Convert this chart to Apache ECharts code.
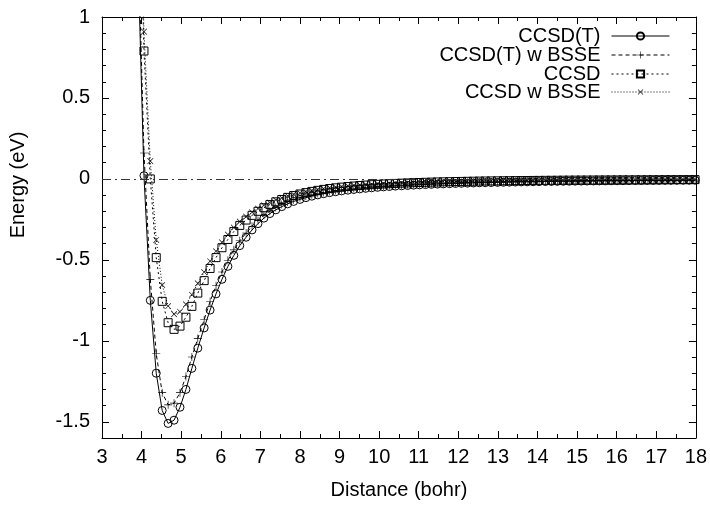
<!DOCTYPE html>
<html>
<head>
<meta charset="utf-8">
<script src="https://cdn.jsdelivr.net/npm/echarts@6/dist/echarts.min.js"></script>
<style>html,body{margin:0;padding:0;background:#fff}#c{width:710px;height:505px}</style>
</head>
<body>
<div id="c"></div>
<script>
var xs = [3.91,4.06,4.22,4.37,4.52,4.67,4.82,4.97,5.12,5.27,5.42,5.58,5.73,5.88,6.03,6.18,6.33,6.48,6.64,6.79,6.94,7.09,7.24,7.39,7.54,7.69,7.84,8.00,8.15,8.30,8.45,8.60,8.75,8.90,9.05,9.21,9.36,9.51,9.66,9.81,9.96,10.11,10.26,10.41,10.57,10.72,10.87,11.02,11.17,11.32,11.47,11.62,11.78,11.93,12.08,12.23,12.38,12.53,12.68,12.83,12.99,13.14,13.29,13.44,13.59,13.74,13.89,14.04,14.20,14.35,14.50,14.65,14.80,14.95,15.10,15.25,15.41,15.56,15.71,15.86,16.01,16.16,16.31,16.47,16.62,16.77,16.92,17.07,17.22,17.37,17.52,17.68,17.83,17.98];

var ccsdT = [1.35,0.02,-0.75,-1.20,-1.43,-1.51,-1.49,-1.41,-1.30,-1.17,-1.045,-0.92,-0.81,-0.71,-0.62,-0.54,-0.472,-0.412,-0.36,-0.315,-0.276,-0.242,-0.214,-0.191,-0.171,-0.154,-0.139,-0.1265,-0.1157,-0.1065,-0.0984,-0.0912,-0.0848,-0.0791,-0.0741,-0.0695,-0.0653,-0.0615,-0.0581,-0.0549,-0.0520,-0.0493,-0.0468,-0.0445,-0.0423,-0.0403,-0.0384,-0.0366,-0.0350,-0.0334,-0.0320,-0.0306,-0.0294,-0.0282,-0.0271,-0.0260,-0.0250,-0.0240,-0.0231,-0.0222,-0.0214,-0.0206,-0.0199,-0.0192,-0.0185,-0.0179,-0.0173,-0.0167,-0.0161,-0.0156,-0.0151,-0.0146,-0.0142,-0.0137,-0.0133,-0.0129,-0.0125,-0.0122,-0.0118,-0.0115,-0.0112,-0.0109,-0.0106,-0.0103,-0.0100,-0.0097,-0.0095,-0.0092,-0.0090,-0.0088,-0.0085,-0.0083,-0.0081,-0.0079];

var ccsdTBsse = [1.5,0.16,-0.62,-1.08,-1.32,-1.395,-1.385,-1.32,-1.22,-1.10,-0.985,-0.87,-0.757,-0.66,-0.575,-0.502,-0.438,-0.382,-0.334,-0.292,-0.256,-0.225,-0.199,-0.177,-0.158,-0.142,-0.128,-0.1165,-0.1065,-0.0978,-0.0902,-0.0834,-0.0774,-0.0721,-0.0674,-0.0631,-0.0592,-0.0557,-0.0525,-0.0495,-0.0468,-0.0443,-0.0420,-0.0399,-0.0379,-0.0360,-0.0343,-0.0327,-0.0312,-0.0298,-0.0285,-0.0272,-0.0261,-0.0250,-0.0240,-0.0230,-0.0221,-0.0212,-0.0204,-0.0196,-0.0189,-0.0182,-0.0175,-0.0169,-0.0163,-0.0157,-0.0152,-0.0147,-0.0142,-0.0137,-0.0133,-0.0129,-0.0125,-0.0121,-0.0117,-0.0113,-0.0110,-0.0107,-0.0104,-0.0101,-0.0098,-0.0095,-0.0093,-0.0090,-0.0088,-0.0086,-0.0083,-0.0081,-0.0079,-0.0077,-0.0075,-0.0073,-0.0071,-0.0070];

var ccsd = [2.2,0.79,0.0,-0.486,-0.756,-0.888,-0.929,-0.909,-0.854,-0.787,-0.705,-0.628,-0.553,-0.486,-0.425,-0.374,-0.325,-0.287,-0.254,-0.225,-0.2,-0.178,-0.1585,-0.1415,-0.1268,-0.1140,-0.1028,-0.0931,-0.0846,-0.0771,-0.0705,-0.0647,-0.0595,-0.0549,-0.0508,-0.0471,-0.0438,-0.0408,-0.0381,-0.0356,-0.0334,-0.0313,-0.0294,-0.0277,-0.0261,-0.0246,-0.0233,-0.0220,-0.0209,-0.0198,-0.0188,-0.0179,-0.0170,-0.0162,-0.0155,-0.0148,-0.0141,-0.0135,-0.0129,-0.0124,-0.0119,-0.0114,-0.0110,-0.0105,-0.0101,-0.0098,-0.0094,-0.0091,-0.0088,-0.0085,-0.0082,-0.0079,-0.0077,-0.0074,-0.0072,-0.0070,-0.0068,-0.0066,-0.0064,-0.0062,-0.0060,-0.0058,-0.0057,-0.0055,-0.0054,-0.0052,-0.0051,-0.0050,-0.0048,-0.0047,-0.0046,-0.0045,-0.0044,-0.0043];

var ccsdBsse = [2.3,0.91,0.11,-0.377,-0.655,-0.785,-0.835,-0.82,-0.775,-0.715,-0.645,-0.575,-0.508,-0.447,-0.392,-0.344,-0.300,-0.264,-0.233,-0.206,-0.183,-0.163,-0.1455,-0.1302,-0.1168,-0.1050,-0.0947,-0.0857,-0.0778,-0.0709,-0.0648,-0.0594,-0.0546,-0.0504,-0.0466,-0.0432,-0.0401,-0.0374,-0.0349,-0.0326,-0.0305,-0.0286,-0.0269,-0.0253,-0.0238,-0.0225,-0.0212,-0.0201,-0.0190,-0.0180,-0.0171,-0.0162,-0.0154,-0.0147,-0.0140,-0.0133,-0.0127,-0.0121,-0.0116,-0.0111,-0.0106,-0.0102,-0.0098,-0.0094,-0.0090,-0.0087,-0.0083,-0.0080,-0.0077,-0.0075,-0.0072,-0.0070,-0.0067,-0.0065,-0.0063,-0.0061,-0.0059,-0.0057,-0.0055,-0.0054,-0.0052,-0.0051,-0.0049,-0.0048,-0.0047,-0.0045,-0.0044,-0.0043,-0.0042,-0.0041,-0.0040,-0.0039,-0.0038,-0.0037];

var seriesNames = ['CCSD(T)', 'CCSD(T) w BSSE', 'CCSD', 'CCSD w BSSE'];
var yTickLabels = [-1.5, -1, -0.5, 0, 0.5, 1];
var xTickLabels = [3,4,5,6,7,8,9,10,11,12,13,14,15,16,17,18];

function pairs(vals) { return xs.map(function (x, i) { return [x, vals[i]]; }); }

var FONT = 'Liberation Sans, Arial, Helvetica, sans-serif';
var FS = 20;
var plusPath = 'path://M0,4.6H10V5.4H0Z M4.6,0H5.4V10H4.6Z';

function yAx(pos, major, labels) {
  return {
    type: 'value', position: pos, min: -1.6, max: 1,
    interval: major ? undefined : 0.1,
    axisLine: { show: !major, onZero: false, lineStyle: { color: '#000', width: 1 } },
    axisTick: major ? { show: true, inside: true, length: 7, customValues: yTickLabels, lineStyle: { color: '#000' } }
                    : { show: true, inside: true, length: 4, lineStyle: { color: '#000' } },
    axisLabel: labels ? { show: true, customValues: yTickLabels, margin: 12, color: '#000', fontSize: FS, fontFamily: FONT,
                          formatter: function (v) { return String(Math.round(v * 10) / 10); } } : { show: false },
    splitLine: { show: false }
  };
}

function xAx(pos, labels) {
  return {
    type: 'value', position: pos, min: xTickLabels[0], max: xTickLabels[xTickLabels.length - 1], interval: 1,
    axisLine: { show: true, onZero: false, lineStyle: { color: '#000', width: 1 } },
    axisTick: { show: true, inside: true, length: 7, lineStyle: { color: '#000' } },
    minorTick: { show: true, splitNumber: 2, length: 4, lineStyle: { color: '#000' } },
    axisLabel: labels ? { show: true, margin: 9, color: '#000', fontSize: FS, fontFamily: FONT } : { show: false },
    splitLine: { show: false },
    name: labels ? 'Distance (bohr)' : '',
    nameLocation: 'middle', nameGap: 42,
    nameTextStyle: { color: '#000', fontSize: FS, fontFamily: FONT }
  };
}

var common = { type: 'line', xAxisIndex: 0, yAxisIndex: 0, symbolSize: 8, showSymbol: true, clip: true, animation: false, z: 3 };

function mk(name, vals, symbol, lineType, hollow, rotate) {
  return Object.assign({}, common, {
    name: name, data: pairs(vals), symbol: symbol, symbolRotate: rotate || 0,
    lineStyle: { color: '#000', width: 1, type: lineType },
    itemStyle: hollow ? { color: 'rgba(255,255,255,0)', borderColor: '#000', borderWidth: 1 } : { color: '#000', borderWidth: 0 }
  });
}

var s0 = mk(seriesNames[0], ccsdT, 'circle', 'solid', true);
s0.markLine = { silent: true, symbol: ['none', 'none'], label: { show: false },
  lineStyle: { color: '#333', width: 1, type: [9, 4, 2, 4] }, data: [{ yAxis: 0 }], animation: false };
var s1 = mk(seriesNames[1], ccsdTBsse, plusPath, [4, 3], false);
var s2 = mk(seriesNames[2], ccsd, 'rect', [2, 3], true);
var s3 = mk(seriesNames[3], ccsdBsse, plusPath, [1, 2], false, 45);

var legendRows = [26, 45, 64, 82];
var legends = seriesNames.map(function (n, i) {
  return {
    data: [n], right: 40, top: legendRows[i], align: 'right', orient: 'vertical',
    itemWidth: 58, itemHeight: 9, itemGap: 0, padding: 0, selectedMode: false,
    lineStyle: { width: 1 },
    textStyle: { color: '#000', fontSize: FS, fontFamily: FONT, padding: [0, 6, 0, 0] }
  };
});

var chart = echarts.init(document.getElementById('c'), null, { renderer: 'canvas' });
chart.setOption({
  animation: false,
  backgroundColor: '#fff',
  grid: { left: 102, right: 13, top: 17, bottom: 62, containLabel: false },
  legend: legends,
  xAxis: [xAx('bottom', true), xAx('top', false)],
  yAxis: [yAx('left', false, true), yAx('left', true, false), yAx('right', false, false), yAx('right', true, false)],
  graphic: [{
    type: 'text', x: 18, y: 185, rotation: Math.PI / 2,
    style: { text: 'Energy (eV)', fontSize: FS, fontFamily: FONT, fill: '#000', align: 'center', verticalAlign: 'middle' }
  }],
  series: [s0, s1, s2, s3]
});
</script>
</body>
</html>
